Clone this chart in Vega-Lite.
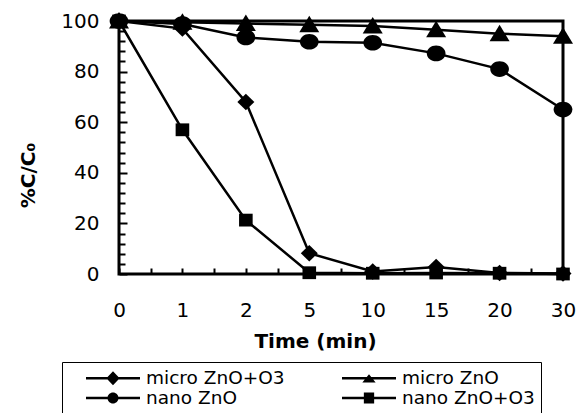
{
  "$schema": "https://vega.github.io/schema/vega-lite/v6.json",
  "width": 444,
  "height": 253,
  "autosize": "none",
  "padding": {"left": 119, "top": 21, "right": 16, "bottom": 139},
  "background": "white",
  "config": {
    "view": {"stroke": "black", "strokeWidth": 3},
    "font": "DejaVu Sans",
    "axis": {"labelColor": "black", "titleColor": "black", "domainColor": "black", "tickColor": "black", "tickOpacity": 1, "labelFont": "DejaVu Sans", "titleFont": "DejaVu Sans"}
  },
  "data": {
    "values": [
      {"time": 0, "series": "micro ZnO+O3", "value": 100},
      {"time": 1, "series": "micro ZnO+O3", "value": 97},
      {"time": 2, "series": "micro ZnO+O3", "value": 68},
      {"time": 5, "series": "micro ZnO+O3", "value": 8.2},
      {"time": 10, "series": "micro ZnO+O3", "value": 1},
      {"time": 15, "series": "micro ZnO+O3", "value": 2.8},
      {"time": 20, "series": "micro ZnO+O3", "value": 0.4},
      {"time": 30, "series": "micro ZnO+O3", "value": 0.2},
      {"time": 0, "series": "micro ZnO", "value": 100},
      {"time": 1, "series": "micro ZnO", "value": 99.5},
      {"time": 2, "series": "micro ZnO", "value": 99},
      {"time": 5, "series": "micro ZnO", "value": 98.5},
      {"time": 10, "series": "micro ZnO", "value": 98},
      {"time": 15, "series": "micro ZnO", "value": 96.5},
      {"time": 20, "series": "micro ZnO", "value": 95},
      {"time": 30, "series": "micro ZnO", "value": 94},
      {"time": 0, "series": "nano ZnO", "value": 100},
      {"time": 1, "series": "nano ZnO", "value": 98.8},
      {"time": 2, "series": "nano ZnO", "value": 93.5},
      {"time": 5, "series": "nano ZnO", "value": 91.8},
      {"time": 10, "series": "nano ZnO", "value": 91.4},
      {"time": 15, "series": "nano ZnO", "value": 87.2},
      {"time": 20, "series": "nano ZnO", "value": 81},
      {"time": 30, "series": "nano ZnO", "value": 65},
      {"time": 0, "series": "nano ZnO+O3", "value": 100},
      {"time": 1, "series": "nano ZnO+O3", "value": 57},
      {"time": 2, "series": "nano ZnO+O3", "value": 21.3},
      {"time": 5, "series": "nano ZnO+O3", "value": 0.5},
      {"time": 10, "series": "nano ZnO+O3", "value": 0.3},
      {"time": 15, "series": "nano ZnO+O3", "value": 0.4},
      {"time": 20, "series": "nano ZnO+O3", "value": 0.3},
      {"time": 30, "series": "nano ZnO+O3", "value": 0}
    ]
  },
  "layer": [
    {
      "layer": [
        {
          "mark": {"type": "line", "color": "black", "strokeWidth": 2.5},
          "encoding": {
            "x": {"field": "time", "type": "ordinal", "scale": {"type": "point", "padding": 0}, "axis": null},
            "y": {"field": "value", "type": "quantitative", "scale": {"domain": [0, 100], "nice": false}, "axis": null},
            "detail": {"field": "series"}
          }
        },
        {
          "mark": {"type": "point", "filled": true, "color": "black", "opacity": 1, "size": 400},
          "encoding": {
            "x": {"field": "time", "type": "ordinal", "axis": null},
            "y": {"field": "value", "type": "quantitative", "axis": null},
            "shape": {
              "field": "series",
              "scale": {
                "domain": ["micro ZnO+O3", "micro ZnO", "nano ZnO", "nano ZnO+O3"],
                "range": [
                  "M-0.85,0L0,-0.82L0.85,0L0,0.82Z",
                  "M0,-0.9L1,0.75L-1,0.75Z",
                  "M0.935,0A0.935,0.785,0,1,1,-0.935,0A0.935,0.785,0,1,1,0.935,0Z",
                  "M-0.68,-0.64H0.68V0.64H-0.68Z"
                ]
              },
              "legend": null
            }
          }
        },
        {
          "mark": {"type": "point", "filled": true, "color": "black", "opacity": 0},
          "encoding": {
            "x": {"field": "time", "type": "ordinal", "axis": null},
            "y": {"field": "value", "type": "quantitative", "axis": null},
            "shape": {
              "field": "series",
              "scale": {
                "domain": ["micro ZnO+O3", "nano ZnO", "micro ZnO", "nano ZnO+O3"],
                "range": [
                  "M-2.7,-0.125H2.7V0.125H-2.7ZM-0.665,0L0,-0.7L0.665,0L0,0.7Z",
                  "M-2.7,-0.125H2.7V0.125H-2.7ZM0.55,0A0.55,0.55,0,1,1,-0.55,0A0.55,0.55,0,1,1,0.55,0Z",
                  "M-2.7,-0.125H2.7V0.125H-2.7ZM0,-0.4L0.665,0.43L-0.665,0.43Z",
                  "M-2.7,-0.125H2.7V0.125H-2.7ZM-0.515,-0.55H0.515V0.55H-0.515Z"
                ]
              },
              "legend": {
                "orient": "none",
                "legendX": -57,
                "legendY": 341,
                "columns": 2,
                "title": null,
                "labelFontSize": 18.5,
                "labelFont": "DejaVu Sans",
                "labelColor": "black",
                "symbolSize": 400,
                "symbolFillColor": "black",
                "symbolStrokeWidth": 0,
                "symbolOpacity": 1,
                "strokeColor": "black",
                "padding": 6,
                "columnPadding": 39,
                "rowPadding": 0,
                "symbolOffset": 35,
                "labelOffset": 23
              }
            }
          }
        }
      ],
      "resolve": {"scale": {"shape": "independent"}, "legend": {"shape": "independent"}}
    },
    {
      "mark": {"type": "point", "opacity": 0},
      "encoding": {
        "x": {
          "field": "time", "type": "ordinal",
          "scale": {"type": "point", "padding": 0},
          "axis": {"orient": "bottom", "title": "Time (min)", "ticks": true, "tickSize": 6, "tickWidth": 2, "tickColor": "black", "offset": -6, "domain": false, "labels": true, "labelPadding": 26, "labelFontSize": 20, "labelAngle": 0, "labelOverlap": false, "grid": false, "titleFontSize": 20, "titleFontWeight": "bold", "titleX": 196, "titleY": 63, "titleBaseline": "top", "titleAlign": "center"}
        }
      }
    },
    {
      "data": {"values": [{}]},
      "mark": {"type": "point", "opacity": 0},
      "encoding": {
        "y": {
          "datum": 0, "type": "quantitative",
          "scale": {"domain": [0, 100], "nice": false, "zero": false},
          "axis": {
            "orient": "left",
            "title": "%C/C₀",
            "values": [0, 20, 40, 60, 80, 100],
            "labels": true,
            "labelOverlap": false,
            "ticks": true,
            "tickSize": 8,
            "tickWidth": 2,
            "tickColor": "black",
            "offset": -8,
            "domain": false,
            "labelPadding": 20,
            "labelFontSize": 20,
            "grid": false,
            "titleFontSize": 20,
            "titleFontWeight": "bold",
            "titleX": -98.5,
            "titleY": 154,
            "titleAlign": "center",
            "titleBaseline": "middle",
            "titleAngle": -90
          }
        }
      }
    },
    {
      "data": {"values": [{}]},
      "mark": {"type": "point", "opacity": 0},
      "encoding": {
        "y": {
          "datum": 0, "type": "quantitative",
          "scale": {"domain": [0, 100], "nice": false, "zero": false},
          "axis": {"orient": "left", "offset": -6, "title": null, "labels": false, "domain": false, "grid": false, "ticks": true, "values": [4, 8, 12, 16, 24, 28, 32, 36, 44, 48, 52, 56, 64, 68, 72, 76, 84, 88, 92, 96], "tickSize": 6, "tickWidth": 2, "tickColor": "black"}
        }
      }
    },
    {
      "data": {"values": [{}]},
      "mark": {"type": "point", "opacity": 0},
      "encoding": {
        "x": {
          "datum": 0, "type": "quantitative",
          "scale": {"domain": [0, 14], "nice": false, "zero": false},
          "axis": {"orient": "bottom", "offset": -6, "title": null, "labels": false, "domain": false, "grid": false, "ticks": true, "values": [1, 3, 5, 7, 9, 11, 13], "tickSize": 6, "tickWidth": 2, "tickColor": "black"}
        }
      }
    }
  ],
  "resolve": {"scale": {"x": "independent", "y": "independent"}, "axis": {"x": "independent", "y": "independent"}}
}
